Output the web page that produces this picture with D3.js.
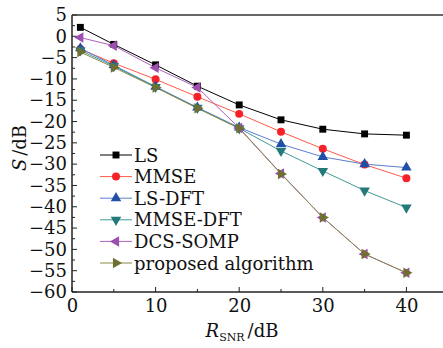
<!DOCTYPE html>
<html>
<head>
<meta charset="utf-8">
<script src="https://cdn.jsdelivr.net/npm/d3@7"></script>
<style>
  body { margin: 0; background: #fff; }
  svg { display: block; font-family: "DejaVu Serif", "Liberation Serif", serif; }
</style>
</head>
<body>
<svg id="chart"></svg>
<script>
const snr = [1, 5, 10, 15, 20, 25, 30, 35, 40];
const ls = [2.1, -1.9, -6.7, -11.7, -16.1, -19.6, -21.8, -22.9, -23.2];
const mmse = [-3.0, -6.3, -10.1, -14.2, -18.2, -22.4, -26.4, -30.1, -33.3];
const lsDft = [-2.8, -6.8, -11.8, -16.7, -21.4, -25.3, -28.3, -30.0, -30.8];
const mmseDft = [-3.3, -7.0, -11.9, -16.8, -21.6, -26.9, -31.6, -36.2, -40.2];
const dcsSomp = [-0.3, -2.2, -7.4, -12.0, -21.5, -32.2, -42.5, -51.1, -55.5];
const proposed = [-3.7, -7.3, -12.0, -16.9, -21.6, -32.3, -42.5, -51.1, -55.5];
const seriesNames = ['LS', 'MMSE', 'LS-DFT', 'MMSE-DFT', 'DCS-SOMP', 'proposed algorithm'];
const xTicks = [0, 10, 20, 30, 40];
const yTicks = [5, 0, -5, -10, -15, -20, -25, -30, -35, -40, -45, -50, -55, -60];

const w = 443, h = 348;
const margin = { top: 15, left: 72, bottom: 56 };
const fs = 18;

const svg = d3.select('#chart').attr('width', w).attr('height', h);

const xScale = d3.scaleLinear().domain([0, 45]).range([margin.left, margin.left + 45 * 8.36]);
const yScale = d3.scaleLinear().domain([-60, 5]).range([h - margin.bottom, margin.top]);

const series = [
  { name: seriesNames[0], vals: ls, line: '#000000', fill: '#000000', sym: d3.symbolSquare, size: 48, rot: 0 },
  { name: seriesNames[1], vals: mmse, line: '#ff5a4a', fill: '#f5222a', sym: d3.symbolCircle, size: 50, rot: 0 },
  { name: seriesNames[2], vals: lsDft, line: '#5a7ed0', fill: '#1f4fa6', sym: d3.symbolTriangle, size: 48, rot: 0 },
  { name: seriesNames[3], vals: mmseDft, line: '#3f9a98', fill: '#237a78', sym: d3.symbolTriangle, size: 48, rot: 180 },
  { name: seriesNames[4], vals: dcsSomp, line: '#b060c0', fill: '#9c4fae', sym: d3.symbolTriangle, size: 48, rot: -90 },
  { name: seriesNames[5], vals: proposed, line: '#8a8a48', fill: '#6f7030', sym: d3.symbolTriangle, size: 48, rot: 90 }
];

// axes
const xAxis = d3.axisBottom(xScale).tickValues(xTicks).tickSize(0).tickPadding(6);
const yAxis = d3.axisLeft(yScale).tickValues(yTicks).tickSize(0).tickPadding(5)
  .tickFormat(d => d < 0 ? '\u2212' + Math.abs(d) : d);

const gx = svg.append('g').attr('transform', `translate(0,${yScale(-60)})`).call(xAxis);
const gy = svg.append('g').attr('transform', `translate(${margin.left},0)`).call(yAxis);
[gx, gy].forEach(g => {
  g.select('.domain').remove();
  g.attr('font-family', null);
  g.selectAll('text').attr('font-size', fs).attr('fill', '#111');
});
gx.selectAll('text').attr('dy', '0.75em');

// inward ticks
const xMinor = d3.range(0, 45, 5);
svg.append('g').selectAll('line').data(xMinor).join('line')
  .attr('x1', d => xScale(d)).attr('x2', d => xScale(d))
  .attr('y1', yScale(-60)).attr('y2', d => yScale(-60) - (d % 10 === 0 ? 5 : 3))
  .attr('stroke', '#222').attr('stroke-width', 1);
const yMinor = d3.range(-60, 5.1, 2.5);
svg.append('g').selectAll('line').data(yMinor).join('line')
  .attr('x1', xScale(0)).attr('x2', d => xScale(0) + (d % 5 === 0 ? 5 : 3))
  .attr('y1', d => yScale(d)).attr('y2', d => yScale(d))
  .attr('stroke', '#222').attr('stroke-width', 1);

// frame: left, bottom, top
svg.append('line').attr('x1', xScale(0)).attr('x2', xScale(0))
  .attr('y1', yScale(5)).attr('y2', yScale(-60)).attr('stroke', '#222').attr('stroke-width', 1.5);
svg.append('line').attr('x1', xScale(0)).attr('x2', w)
  .attr('y1', yScale(-60)).attr('y2', yScale(-60)).attr('stroke', '#222').attr('stroke-width', 1.5);
svg.append('line').attr('x1', xScale(0)).attr('x2', w)
  .attr('y1', yScale(5)).attr('y2', yScale(5)).attr('stroke', '#333').attr('stroke-width', 1.5);

// lines and markers
const line = d3.line().x((d, i) => xScale(snr[i])).y(d => yScale(d));
series.forEach(s => {
  svg.append('path').datum(s.vals).attr('d', line)
    .attr('fill', 'none').attr('stroke', s.line).attr('stroke-width', 1);
});
series.forEach(s => {
  const sym = d3.symbol().type(s.sym).size(s.size);
  svg.append('g').selectAll('path').data(s.vals).join('path')
    .attr('d', sym)
    .attr('transform', (d, i) => `translate(${xScale(snr[i])},${yScale(d)}) rotate(${s.rot})`)
    .attr('fill', s.fill);
});

// legend
const leg = svg.append('g');
series.forEach((s, i) => {
  const y = 155 + i * 21.6;
  leg.append('line').attr('x1', 100).attr('x2', 132).attr('y1', y).attr('y2', y)
    .attr('stroke', s.line).attr('stroke-width', 1);
  leg.append('path').attr('d', d3.symbol().type(s.sym).size(s.size)())
    .attr('transform', `translate(116,${y}) rotate(${s.rot})`).attr('fill', s.fill);
  leg.append('text').attr('x', 134).attr('y', y + 6.5).attr('font-size', fs).attr('fill', '#111').text(s.name);
});

// axis titles
const xt = svg.append('text').attr('x', 242).attr('y', 337).attr('text-anchor', 'middle')
  .attr('font-size', fs).attr('fill', '#111');
xt.append('tspan').attr('font-style', 'italic').text('R');
xt.append('tspan').attr('font-size', 11).attr('dy', 4).text('SNR');
xt.append('tspan').attr('dy', -4).attr('dx', 3).text('/dB');

const yt = svg.append('text').attr('transform', 'translate(26,148) rotate(-90)')
  .attr('text-anchor', 'middle').attr('font-size', fs).attr('fill', '#111');
yt.append('tspan').attr('font-style', 'italic').text('S');
yt.append('tspan').attr('dx', 3).text('/dB');
</script>
</body>
</html>
